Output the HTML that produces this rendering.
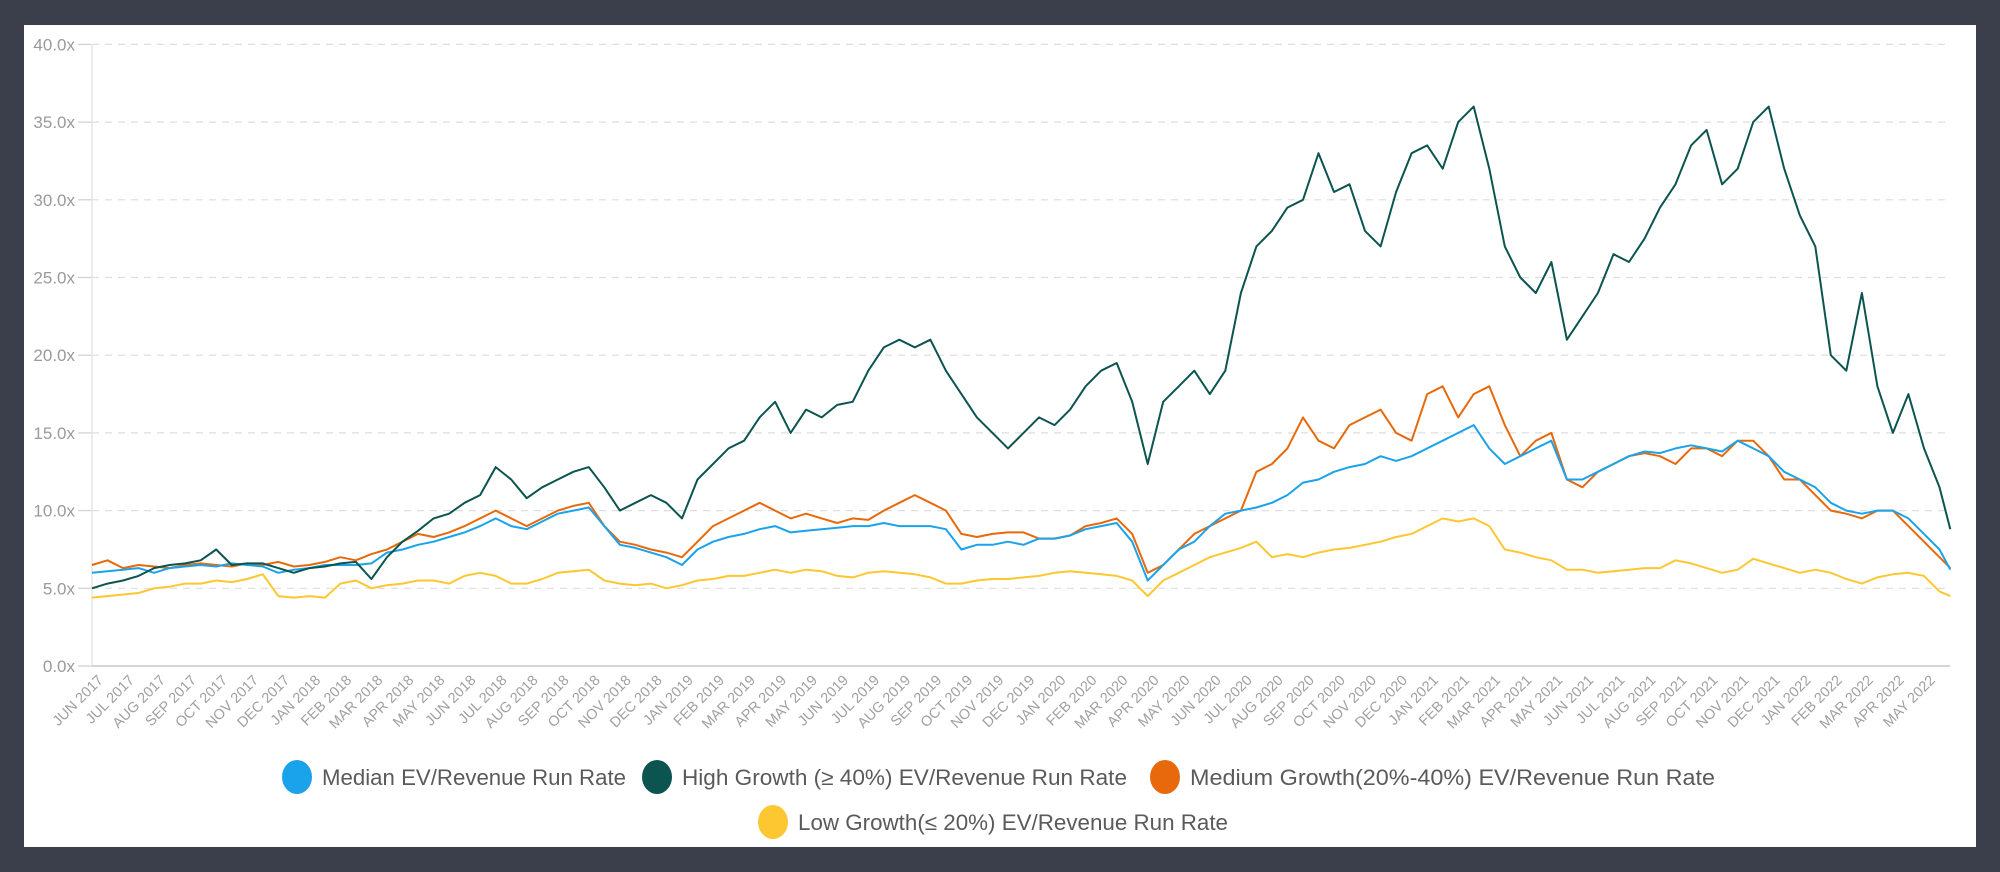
<!DOCTYPE html>
<html><head><meta charset="utf-8">
<style>
html,body{margin:0;padding:0;background:#3a3f4b;}
#wrap{position:absolute;left:24px;top:25px;width:1952px;height:822px;background:#fff;}
svg{position:absolute;left:0;top:0;}
text{font-family:"Liberation Sans",sans-serif;}
</style></head>
<body>
<div id="wrap"></div>
<svg id="chart" width="2000" height="872"></svg>
<script>
const months = ["JUN 2017","JUL 2017","AUG 2017","SEP 2017","OCT 2017","NOV 2017","DEC 2017","JAN 2018","FEB 2018","MAR 2018","APR 2018","MAY 2018","JUN 2018","JUL 2018","AUG 2018","SEP 2018","OCT 2018","NOV 2018","DEC 2018","JAN 2019","FEB 2019","MAR 2019","APR 2019","MAY 2019","JUN 2019","JUL 2019","AUG 2019","SEP 2019","OCT 2019","NOV 2019","DEC 2019","JAN 2020","FEB 2020","MAR 2020","APR 2020","MAY 2020","JUN 2020","JUL 2020","AUG 2020","SEP 2020","OCT 2020","NOV 2020","DEC 2020","JAN 2021","FEB 2021","MAR 2021","APR 2021","MAY 2021","JUN 2021","JUL 2021","AUG 2021","SEP 2021","OCT 2021","NOV 2021","DEC 2021","JAN 2022","FEB 2022","MAR 2022","APR 2022","MAY 2022"];
const yTicks = [0,5,10,15,20,25,30,35,40];
const yTickLabels = ["0.0x","5.0x","10.0x","15.0x","20.0x","25.0x","30.0x","35.0x","40.0x"];
// semi-monthly values, Jun 2017 -> late May 2022
const highGrowth = [5.0,5.3,5.5,5.8,6.3,6.5,6.6,6.8,7.5,6.5,6.6,6.6,6.3,6.0,6.3,6.4,6.6,6.7,5.6,7.0,8.0,8.7,9.5,9.8,10.5,11.0,12.8,12.0,10.8,11.5,12.0,12.5,12.8,11.5,10.0,10.5,11.0,10.5,9.5,12.0,13.0,14.0,14.5,16.0,17.0,15.0,16.5,16.0,16.8,17.0,19.0,20.5,21.0,20.5,21.0,19.0,17.5,16.0,15.0,14.0,15.0,16.0,15.5,16.5,18.0,19.0,19.5,17.0,13.0,17.0,18.0,19.0,17.5,19.0,24.0,27.0,28.0,29.5,30.0,33.0,30.5,31.0,28.0,27.0,30.5,33.0,33.5,32.0,35.0,36.0,32.0,27.0,25.0,24.0,26.0,21.0,22.5,24.0,26.5,26.0,27.5,29.5,31.0,33.5,34.5,31.0,32.0,35.0,36.0,32.0,29.0,27.0,20.0,19.0,24.0,18.0,15.0,17.5,14.0,11.5,8.8];
const mediumGrowth = [6.5,6.8,6.3,6.5,6.4,6.3,6.5,6.6,6.5,6.4,6.6,6.5,6.7,6.4,6.5,6.7,7.0,6.8,7.2,7.5,8.0,8.5,8.3,8.6,9.0,9.5,10.0,9.5,9.0,9.5,10.0,10.3,10.5,9.0,8.0,7.8,7.5,7.3,7.0,8.0,9.0,9.5,10.0,10.5,10.0,9.5,9.8,9.5,9.2,9.5,9.4,10.0,10.5,11.0,10.5,10.0,8.5,8.3,8.5,8.6,8.6,8.2,8.2,8.4,9.0,9.2,9.5,8.5,6.0,6.5,7.5,8.5,9.0,9.5,10.0,12.5,13.0,14.0,16.0,14.5,14.0,15.5,16.0,16.5,15.0,14.5,17.5,18.0,16.0,17.5,18.0,15.5,13.5,14.5,15.0,12.0,11.5,12.5,13.0,13.5,13.7,13.5,13.0,14.0,14.0,13.5,14.5,14.5,13.5,12.0,12.0,11.0,10.0,9.8,9.5,10.0,10.0,9.0,8.0,7.0,6.3];
const median = [6.0,6.1,6.2,6.3,6.0,6.3,6.4,6.5,6.4,6.6,6.5,6.4,6.0,6.2,6.3,6.5,6.5,6.5,6.6,7.3,7.5,7.8,8.0,8.3,8.6,9.0,9.5,9.0,8.8,9.3,9.8,10.0,10.2,9.0,7.8,7.6,7.3,7.0,6.5,7.5,8.0,8.3,8.5,8.8,9.0,8.6,8.7,8.8,8.9,9.0,9.0,9.2,9.0,9.0,9.0,8.8,7.5,7.8,7.8,8.0,7.8,8.2,8.2,8.4,8.8,9.0,9.2,8.0,5.5,6.5,7.5,8.0,9.0,9.8,10.0,10.2,10.5,11.0,11.8,12.0,12.5,12.8,13.0,13.5,13.2,13.5,14.0,14.5,15.0,15.5,14.0,13.0,13.5,14.0,14.5,12.0,12.0,12.5,13.0,13.5,13.8,13.7,14.0,14.2,14.0,13.8,14.5,14.0,13.5,12.5,12.0,11.5,10.5,10.0,9.8,10.0,10.0,9.5,8.5,7.5,6.2];
const lowGrowth = [4.4,4.5,4.6,4.7,5.0,5.1,5.3,5.3,5.5,5.4,5.6,5.9,4.5,4.4,4.5,4.4,5.3,5.5,5.0,5.2,5.3,5.5,5.5,5.3,5.8,6.0,5.8,5.3,5.3,5.6,6.0,6.1,6.2,5.5,5.3,5.2,5.3,5.0,5.2,5.5,5.6,5.8,5.8,6.0,6.2,6.0,6.2,6.1,5.8,5.7,6.0,6.1,6.0,5.9,5.7,5.3,5.3,5.5,5.6,5.6,5.7,5.8,6.0,6.1,6.0,5.9,5.8,5.5,4.5,5.5,6.0,6.5,7.0,7.3,7.6,8.0,7.0,7.2,7.0,7.3,7.5,7.6,7.8,8.0,8.3,8.5,9.0,9.5,9.3,9.5,9.0,7.5,7.3,7.0,6.8,6.2,6.2,6.0,6.1,6.2,6.3,6.3,6.8,6.6,6.3,6.0,6.2,6.9,6.6,6.3,6.0,6.2,6.0,5.6,5.3,5.7,5.9,6.0,5.8,4.8,4.5];

const NS = "http://www.w3.org/2000/svg";
const svg = document.getElementById("chart");
const X0 = 92, MONTH_W = 31.05, Y0 = 666, PX_PER_UNIT = 15.54;
function xScale(t){ return X0 + t*MONTH_W; }
function yScale(v){ return Y0 - v*PX_PER_UNIT; }
function tOf(i, n){ return i === n-1 ? 59.85 : i*0.5; }
function mk(tag, attrs){ const e=document.createElementNS(NS,tag); for(const k in attrs) e.setAttribute(k,attrs[k]); svg.appendChild(e); return e; }

yTicks.forEach((v,i)=>{
  const y=yScale(v);
  if(v>0){
    const g=mk("line",{x1:92,x2:1950,y1:y,y2:y,stroke:"#dedede","stroke-width":1.2,"stroke-dasharray":"7,6"});
    
    
  }
  const tk=mk("line",{x1:78,x2:92,y1:y,y2:y,stroke:"#cfcfcf","stroke-width":1.2});
  
  
  const t=mk("text",{x:75,y:y+6,"text-anchor":"end","font-size":17,fill:"#9a9a9a"});
  t.textContent=yTickLabels[i];
  
  
});
const ya=mk("line",{x1:92,x2:92,y1:44,y2:666,stroke:"#e6e6e6","stroke-width":1.5});


const xa=mk("line",{x1:92,x2:1950,y1:666,y2:666,stroke:"#c8c8c8","stroke-width":1.5});



months.forEach((m,i)=>{
  const x=xScale(i)+12, y=681;
  const t=mk("text",{x:x,y:y,"text-anchor":"end","font-size":14.5,fill:"#a0a0a0",transform:`rotate(-45 ${x} ${y})`});
  t.textContent=m;
  
  
});

function drawSeries(vals,color,name){
  const d=vals.map((v,i)=>(i?"L":"M")+xScale(tOf(i,vals.length)).toFixed(1)+","+yScale(v).toFixed(1)).join(" ");
  const p=mk("path",{d:d,fill:"none",stroke:color,"stroke-width":2,"stroke-linejoin":"round"});
  
  
}
drawSeries(lowGrowth,"#fcc730","low-growth-line");
drawSeries(mediumGrowth,"#e8690b","medium-growth-line");
drawSeries(median,"#1aa3ea","median-line");
drawSeries(highGrowth,"#0b5450","high-growth-line");

const legend=[
  {cx:297,cy:777,c:"#1aa3ea",t:"Median EV/Revenue Run Rate",w:304,n:"legend-median"},
  {cx:657,cy:777,c:"#0b5450",t:"High Growth (≥ 40%) EV/Revenue Run Rate",w:445,n:"legend-high-growth"},
  {cx:1165,cy:777,c:"#e8690b",t:"Medium Growth(20%-40%) EV/Revenue Run Rate",w:525,n:"legend-medium-growth"},
  {cx:773,cy:822,c:"#fcc730",t:"Low Growth(≤ 20%) EV/Revenue Run Rate",w:430,n:"legend-low-growth"}
];
legend.forEach(l=>{
  const c=mk("ellipse",{cx:l.cx,cy:l.cy,rx:15,ry:17,fill:l.c});
  
  
  const t=mk("text",{x:l.cx+25,y:l.cy+8,"font-size":22,fill:"#5a5a5a",textLength:l.w,lengthAdjust:"spacingAndGlyphs"});
  t.textContent=l.t;
  
  
});
</script>
</body></html>
